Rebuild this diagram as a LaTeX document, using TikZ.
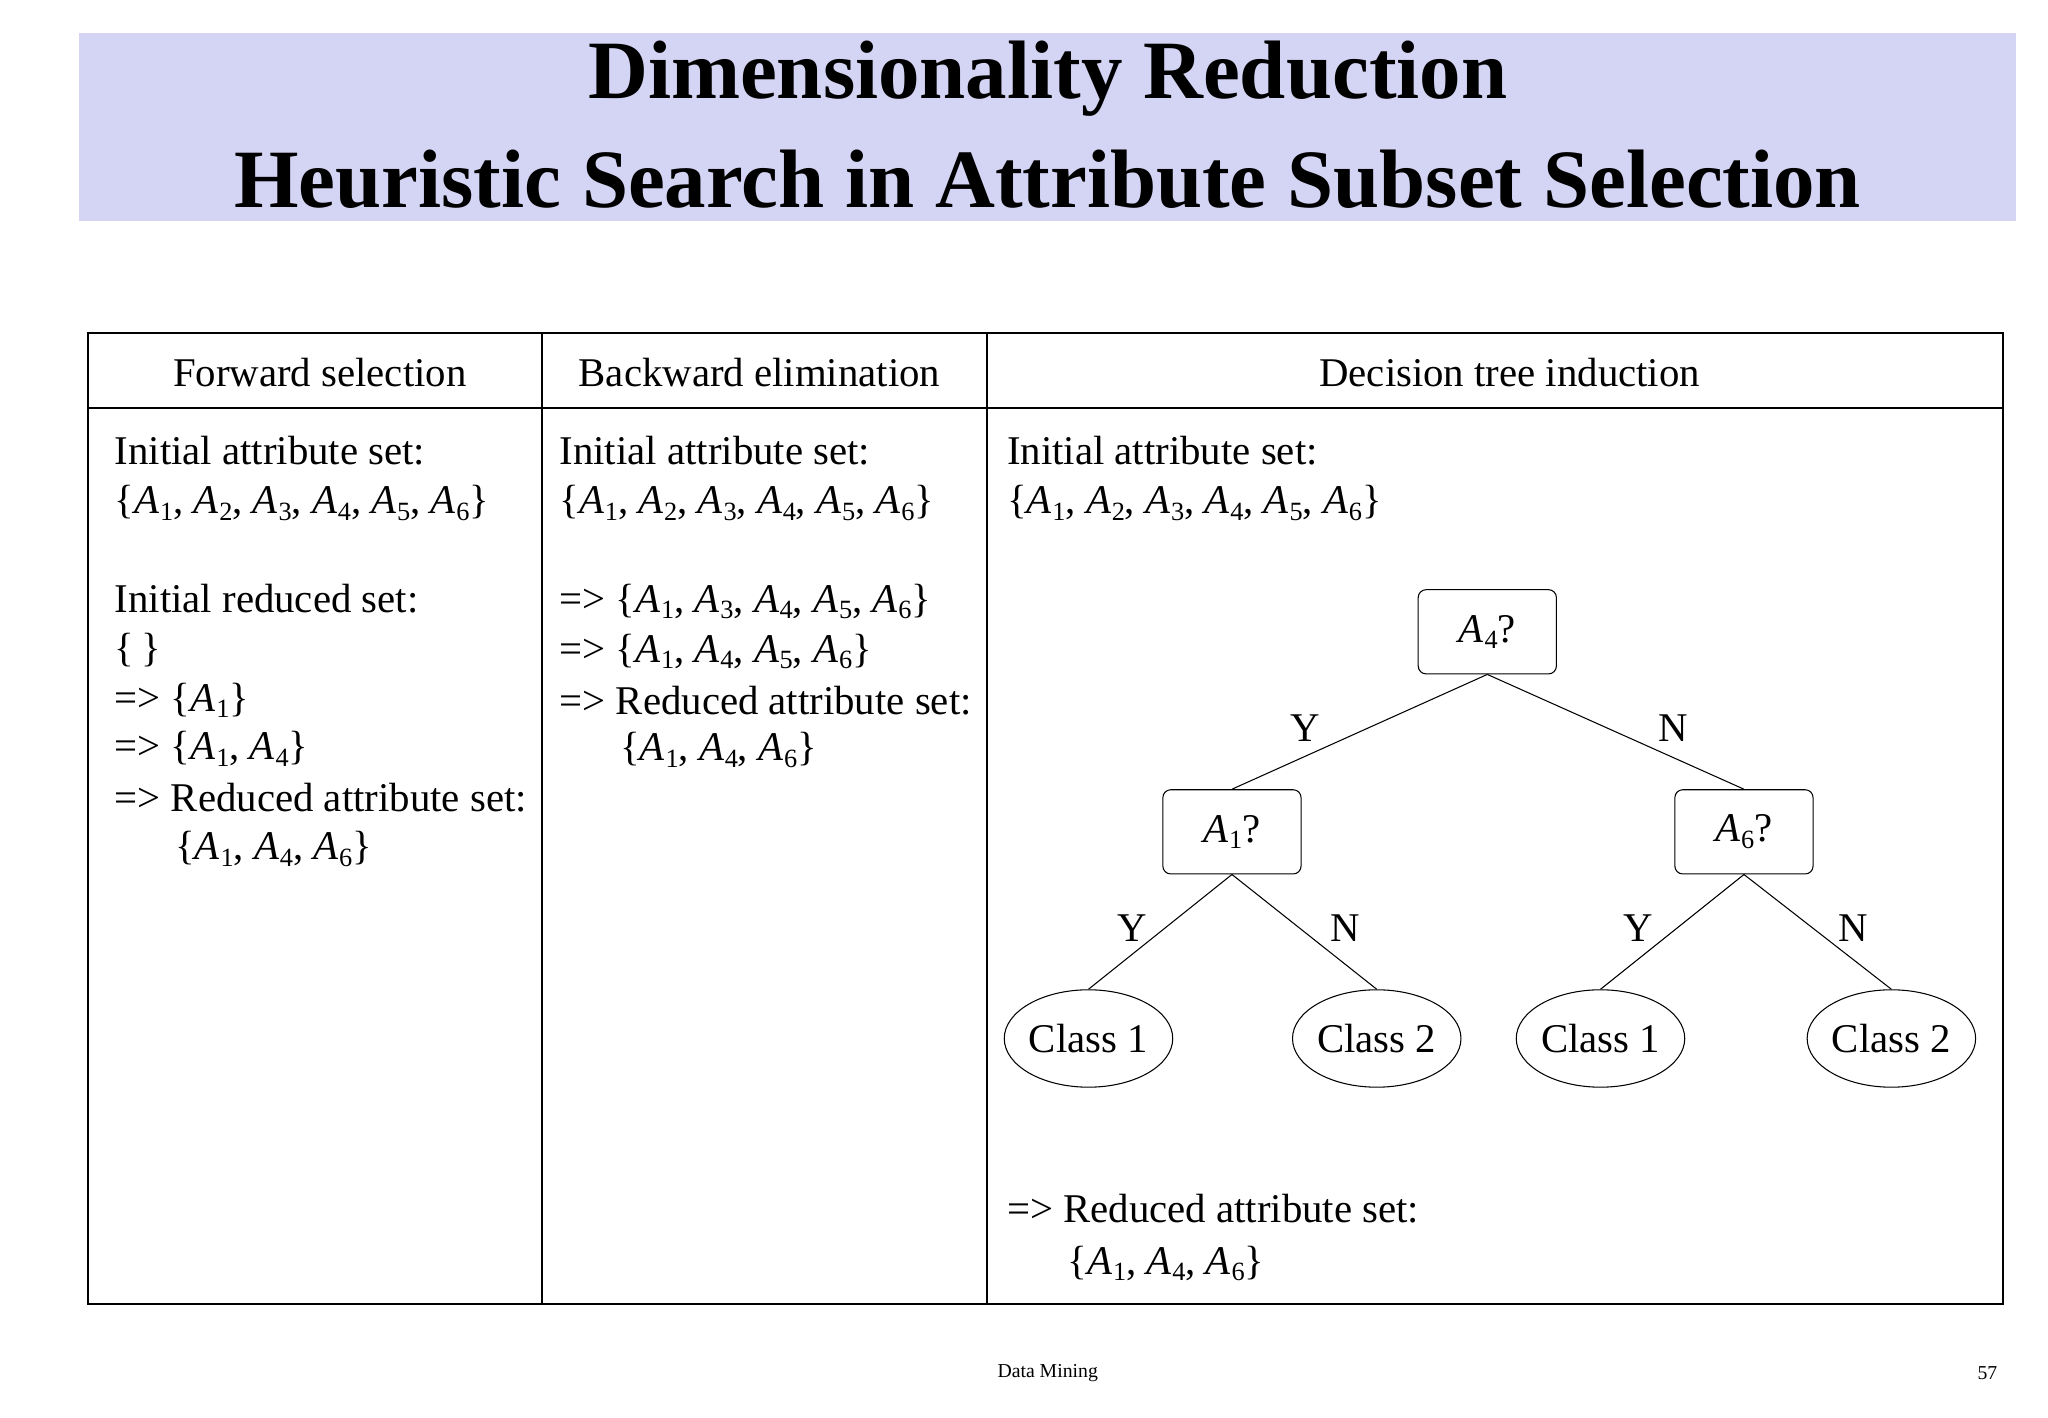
\documentclass[tikz,border=0pt]{standalone}
\usepackage{fontspec}
\setmainfont{Liberation Serif}
\usetikzlibrary{shapes.geometric}
\definecolor{band}{RGB}{212,212,244}
\newcommand{\At}[1]{\textit{A}\kern0.5pt\raisebox{-0.35ex}{\fontsize{20}{20}\selectfont #1}}
\begin{document}
\begin{tikzpicture}[x=1pt,y=-1pt,
  tx/.style={anchor=west,inner sep=0pt,font=\fontsize{31}{31}\selectfont},
  hd/.style={inner sep=0pt,font=\fontsize{31}{31}\selectfont},
  qbox/.style={draw,rounded corners=6pt,minimum width=105pt,minimum height=64pt,font=\fontsize{31}{31}\selectfont,thick},
  leaf/.style={draw,ellipse,minimum width=128pt,minimum height=74pt,font=\fontsize{31}{31}\selectfont,inner sep=0pt,thick},
  lab/.style={font=\fontsize{31}{31}\selectfont,inner sep=0pt},
  edge/.style={thick}]
\useasboundingbox (0,0) rectangle (1556,1077);
\fill[band] (60,25) rectangle (1532,168);
\node[font=\bfseries\fontsize{63}{63}\selectfont] (t1) at (796,60) {Dimensionality Reduction};
\node[font=\bfseries\fontsize{63}{63}\selectfont] (t2) at (796,136) {Heuristic Search in Attribute Subset Selection};
\draw[line width=1.5pt] (67,253) rectangle (1522,991);
\draw[line width=1.2pt] (67,310) -- (1522,310) (412,253) -- (412,991) (750,253) -- (750,991);
\node[hd] (h1) at (243,283) {Forward selection};
\node[hd] (h2) at (577,283) {Backward elimination};
\node[hd] (h3) at (1147,283) {Decision tree induction};
% col 1
\node[tx] (a1) at (87,342) {Initial attribute set:};
\node[tx] (a2) at (87,382) {\{\At1, \At2, \At3, \At4, \At5, \At6\}};
\node[tx] (a3) at (87,455) {Initial reduced set:};
\node[tx] (a4) at (87,494) {\{\,\}};
\node[tx] (a5) at (87,532) {=> \{\At1\}};
\node[tx] (a6) at (87,569) {=> \{\At1, \At4\}};
\node[tx] (a7) at (87,606) {=> Reduced attribute set:};
\node[tx] (a8) at (133,645) {\{\At1, \At4, \At6\}};
% col 2
\node[tx] (b1) at (425,342) {Initial attribute set:};
\node[tx] (b2) at (425,382) {\{\At1, \At2, \At3, \At4, \At5, \At6\}};
\node[tx] (b3) at (425,457) {=> \{\At1, \At3, \At4, \At5, \At6\}};
\node[tx] (b4) at (425,495) {=> \{\At1, \At4, \At5, \At6\}};
\node[tx] (b5) at (425,532) {=> Reduced attribute set:};
\node[tx] (b6) at (471,570) {\{\At1, \At4, \At6\}};
% col 3
\node[tx] (c1) at (765,342) {Initial attribute set:};
\node[tx] (c2) at (765,382) {\{\At1, \At2, \At3, \At4, \At5, \At6\}};
\node[tx] (c3) at (765,918) {=> Reduced attribute set:};
\node[tx] (c4) at (811,960) {\{\At1, \At4, \At6\}};
% tree
\node[qbox] (q4) at (1130,480) {\At4?};
\node[qbox] (q1) at (936,632) {\At1?};
\node[qbox] (q6) at (1325,632) {\At6?};
\node[leaf] (l1) at (827,789) {Class 1};
\node[leaf] (l2) at (1046,789) {Class 2};
\node[leaf] (l3) at (1216,789) {Class 1};
\node[leaf] (l4) at (1437,789) {Class 2};
\draw[edge] (q4.south) -- (q1.north);
\draw[edge] (q4.south) -- (q6.north);
\draw[edge] (q1.south) -- (l1.north);
\draw[edge] (q1.south) -- (l2.north);
\draw[edge] (q6.south) -- (l3.north);
\draw[edge] (q6.south) -- (l4.north);
\node[lab] (y1) at (992,553) {Y};
\node[lab] (n1) at (1271,553) {N};
\node[lab] (y2) at (860,705) {Y};
\node[lab] (n2) at (1022,705) {N};
\node[lab] (y3) at (1245,705) {Y};
\node[lab] (n3) at (1408,705) {N};
% footer
\node[font=\fontsize{15}{15}\selectfont] (f1) at (796,1043) {Data Mining};
\node[font=\fontsize{15}{15}\selectfont] (f2) at (1510,1043) {57};
\end{tikzpicture}
\end{document}
